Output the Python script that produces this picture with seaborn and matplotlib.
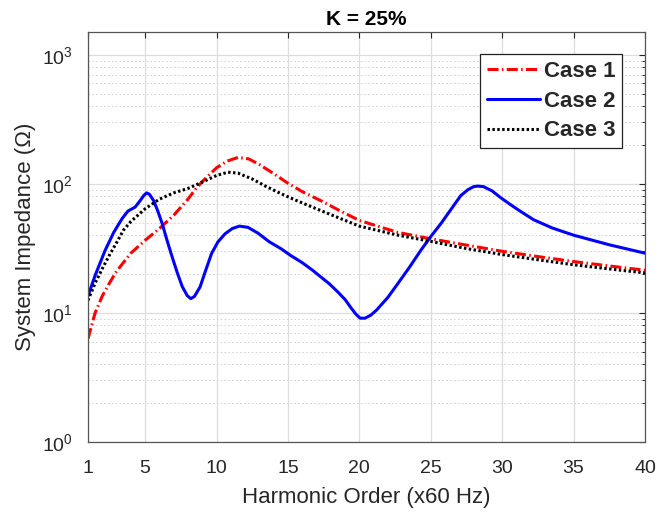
import matplotlib
matplotlib.use("Agg")
import matplotlib.pyplot as plt
import pandas as pd
import seaborn as sns
from matplotlib.ticker import FixedLocator, LogLocator, NullFormatter

# Harmonic order (multiples of 60 Hz) and system impedance in ohms for each case
case1_h = [1, 1.5, 2, 2.5, 3, 4, 5, 6, 7, 8, 8.5, 9, 10, 10.75, 11.5, 12.25, 13,
           14, 15, 16, 17.3, 18.5, 20, 22.7, 25, 27.5, 30, 32.5, 35, 37.5, 40]
case1_z = [6.3, 10.0, 13.5, 17.0, 21.0, 29.0, 36.5, 45, 57, 76, 90, 104, 133, 150,
           160, 156, 141, 120, 101, 87, 74, 63, 52, 42, 37.5, 33.5, 30, 27.3, 25,
           23.1, 21.4]

case2_h = [1, 1.5, 2.2, 2.8, 3.4, 3.8, 4.3, 4.65, 4.9, 5.1, 5.3, 5.6, 5.9, 6.2,
           6.55, 6.9, 7.25, 7.6, 7.95, 8.2, 8.45, 8.85, 9.25, 9.65, 10.1, 10.6,
           11.1, 11.6, 12.2, 12.9, 13.7, 14.5, 15.2, 16, 16.7, 17.3, 17.9, 18.5,
           19.0, 19.4, 19.75, 20.05, 20.4, 20.8, 21.2, 22.0, 22.7, 23.5, 24.3,
           25.0, 25.7, 26.4, 27.1, 27.6, 28.0, 28.3, 28.7, 29.3, 29.9, 30.5, 31.2,
           32.2, 33.5, 35, 37.5, 40]
case2_z = [13.5, 19.5, 30.5, 42, 54, 61.5, 66, 74, 81, 85, 83, 74, 61, 49, 36, 27,
           20.5, 16, 13.6, 12.9, 13.4, 15.9, 21.5, 28.8, 35.5, 41, 45, 47, 46,
           41.5, 35.5, 31.5, 27.8, 24.5, 21.5, 19, 16.8, 14.5, 12.7, 11.0, 9.8,
           9.1, 9.1, 9.6, 10.5, 13.2, 16.9, 22.5, 30.5, 39, 49, 63, 81, 90, 95,
           96, 95, 88, 78, 70, 62, 52.7, 45.5, 40, 33.7, 29]

case3_h = [1, 1.5, 2, 2.5, 3, 3.5, 4, 5, 6, 7, 8, 9, 10, 10.8, 11.5, 12.5, 13.5,
           14.5, 15.5, 17.3, 20, 22.7, 25, 27.5, 30, 32.5, 35, 37.5, 40]
case3_z = [12.5, 17, 22, 28, 35, 44, 51, 64, 76, 85, 92, 103, 116, 123, 121, 109,
           95, 84, 75, 62, 47, 40, 35.8, 31.5, 28.3, 25.8, 23.6, 21.9, 20.4]

case_names = ["Case 1", "Case 2", "Case 3"]
x_ticks = [1, 5, 10, 15, 20, 25, 30, 35, 40]

frames = []
for name, h, z in zip(case_names, [case1_h, case2_h, case3_h],
                      [case1_z, case2_z, case3_z]):
    frames.append(pd.DataFrame({"harmonic": h, "impedance": z, "case": name}))
data = pd.concat(frames, ignore_index=True)

sns.set_theme(style="white")
plt.rcParams["font.family"] = ["Liberation Sans", "DejaVu Sans"]
plt.rcParams["mathtext.fontset"] = "custom"
plt.rcParams["mathtext.rm"] = "Liberation Sans"

text_color = "#262626"

fig = plt.figure(figsize=(6.61, 5.14), dpi=100)
ax = fig.add_axes([0.1331, 0.1401, 0.8427, 0.7977])

line_styles = {
    "Case 1": dict(color="#ff0000", linestyle=(0, (3.6, 1.1, 0.5, 1.1))),
    "Case 2": dict(color="#0000ff", linestyle="-"),
    "Case 3": dict(color="#000000", linestyle=(0, (0.8, 0.8))),
}

for name in case_names:
    sub = data[data["case"] == name]
    sns.lineplot(data=sub, x="harmonic", y="impedance", ax=ax, label=name,
                 estimator=None, sort=True, linewidth=2.2, **line_styles[name])

ax.set_yscale("log")
ax.set_xlim(1, 40)
ax.set_ylim(1, 1500)

ax.xaxis.set_major_locator(FixedLocator(x_ticks))
ax.set_xticklabels([str(t) for t in x_ticks])
ax.yaxis.set_major_locator(LogLocator(base=10, numticks=10))
ax.yaxis.set_minor_locator(LogLocator(base=10, subs=range(2, 10), numticks=20))
ax.yaxis.set_minor_formatter(NullFormatter())

ax.set_axisbelow(True)
ax.grid(True, which="major", color="#dddddd", linewidth=0.9, linestyle="-")
ax.yaxis.grid(True, which="minor", color="#cfcfcf", linewidth=0.7,
              linestyle=(0, (1.5, 2.5)))

ax.tick_params(which="both", direction="in", top=True, right=True,
               colors=text_color, labelsize=14)
ax.tick_params(which="major", length=4, width=0.8)
ax.tick_params(which="minor", length=2.5, width=0.7)
ax.tick_params(axis="x", which="major", pad=13)
ax.tick_params(axis="y", which="major", pad=11)
for spine in ax.spines.values():
    spine.set_color("#555555")
    spine.set_linewidth(0.9)

ax.set_xlabel("Harmonic Order (x60 Hz)", fontsize=16, color=text_color, labelpad=7)
ax.set_ylabel("System Impedance (\u03a9)", fontsize=16, color=text_color, labelpad=4)
ax.set_title("K = 25%", fontsize=15, fontweight="bold", color="black", pad=5)

leg = ax.legend(loc="upper right", bbox_to_anchor=(0.9587, 0.9463),
                borderaxespad=0, fancybox=False, framealpha=1,
                edgecolor="#222222", handlelength=2.4, handletextpad=0.15,
                labelspacing=0.4, borderpad=0.3,
                prop={"weight": "bold", "size": 16})
leg.get_frame().set_linewidth(0.9)

fig.savefig("out.png", dpi=100)
